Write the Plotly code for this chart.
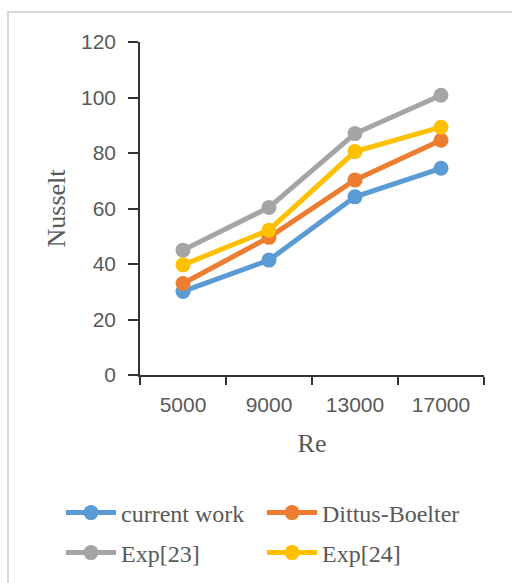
import plotly.graph_objects as go

categories = ["5000", "9000", "13000", "17000"]
current_work = [30.1, 41.4, 64.2, 74.5]
dittus_boelter = [33.0, 49.6, 70.3, 84.6]
exp23 = [45.0, 60.4, 87.0, 100.8]
exp24 = [39.7, 52.2, 80.5, 89.3]
y_ticks = [0, 20, 40, 60, 80, 100, 120]

W, H = 512, 583
# (name, values, colour, legend id, legend left px, legend middle px)
series = [
    ("current work", current_work, "#5B9BD5", "legend", 61, 513),
    ("Dittus-Boelter", dittus_boelter, "#ED7D31", "legend2", 262, 513),
    ("Exp[23]", exp23, "#A5A5A5", "legend3", 61, 553),
    ("Exp[24]", exp24, "#FFC000", "legend4", 262, 553),
]

axis_font = dict(family="Liberation Sans, Arial, sans-serif", size=21, color="#595959")
title_font = dict(family="Liberation Serif, Times New Roman, serif", size=26, color="#595959")
legend_font = dict(family="Liberation Serif, Times New Roman, serif", size=24, color="#595959")

fig = go.Figure()
legends = {}
for name, vals, color, lg, lx, ly in series:
    fig.add_trace(go.Scatter(
        x=categories, y=vals, name=name, mode="lines+markers",
        line=dict(color=color, width=5),
        marker=dict(color=color, size=15),
        legend=lg,
    ))
    legends[lg] = dict(
        orientation="h", xref="container", yref="container",
        x=lx / W, xanchor="left", y=1 - ly / H, yanchor="middle",
        font=legend_font, bgcolor="rgba(0,0,0,0)", itemwidth=50,
    )

fig.update_layout(
    width=W, height=H,
    margin=dict(l=140, r=28, t=42, b=208, autoexpand=False),
    paper_bgcolor="white", plot_bgcolor="white",
    showlegend=True,
    xaxis=dict(
        type="category", range=[-0.5, 3.5],
        tickson="boundaries", ticks="outside", ticklen=8, tickwidth=1.5, tickcolor="#333333",
        showline=True, linecolor="#333333", linewidth=1.5,
        showgrid=False, zeroline=False,
        tickfont=axis_font, ticklabelstandoff=10,
        title=dict(text="Re", font=title_font, standoff=19),
    ),
    yaxis=dict(
        range=[0, 120], tickvals=y_ticks, ticktext=[str(v) for v in y_ticks],
        ticks="outside", ticklen=10, tickwidth=1.5, tickcolor="#333333",
        showline=True, linecolor="#333333", linewidth=1.5,
        showgrid=False, zeroline=False,
        tickfont=axis_font, ticklabelstandoff=8,
        title=dict(text="Nusselt", font=title_font, standoff=8),
    ),
    shapes=[dict(
        type="rect", xref="paper", yref="paper",
        x0=(8 - 140) / 344, x1=1.3, y0=-0.8, y1=1 + (42 - 12) / 333,
        line=dict(color="#D9D9D9", width=2), fillcolor="rgba(0,0,0,0)", layer="below",
    )],
    **legends,
)

fig.write_html("out.html", config={"displayModeBar": False},
               post_script="document.body.style.margin='0px';")
